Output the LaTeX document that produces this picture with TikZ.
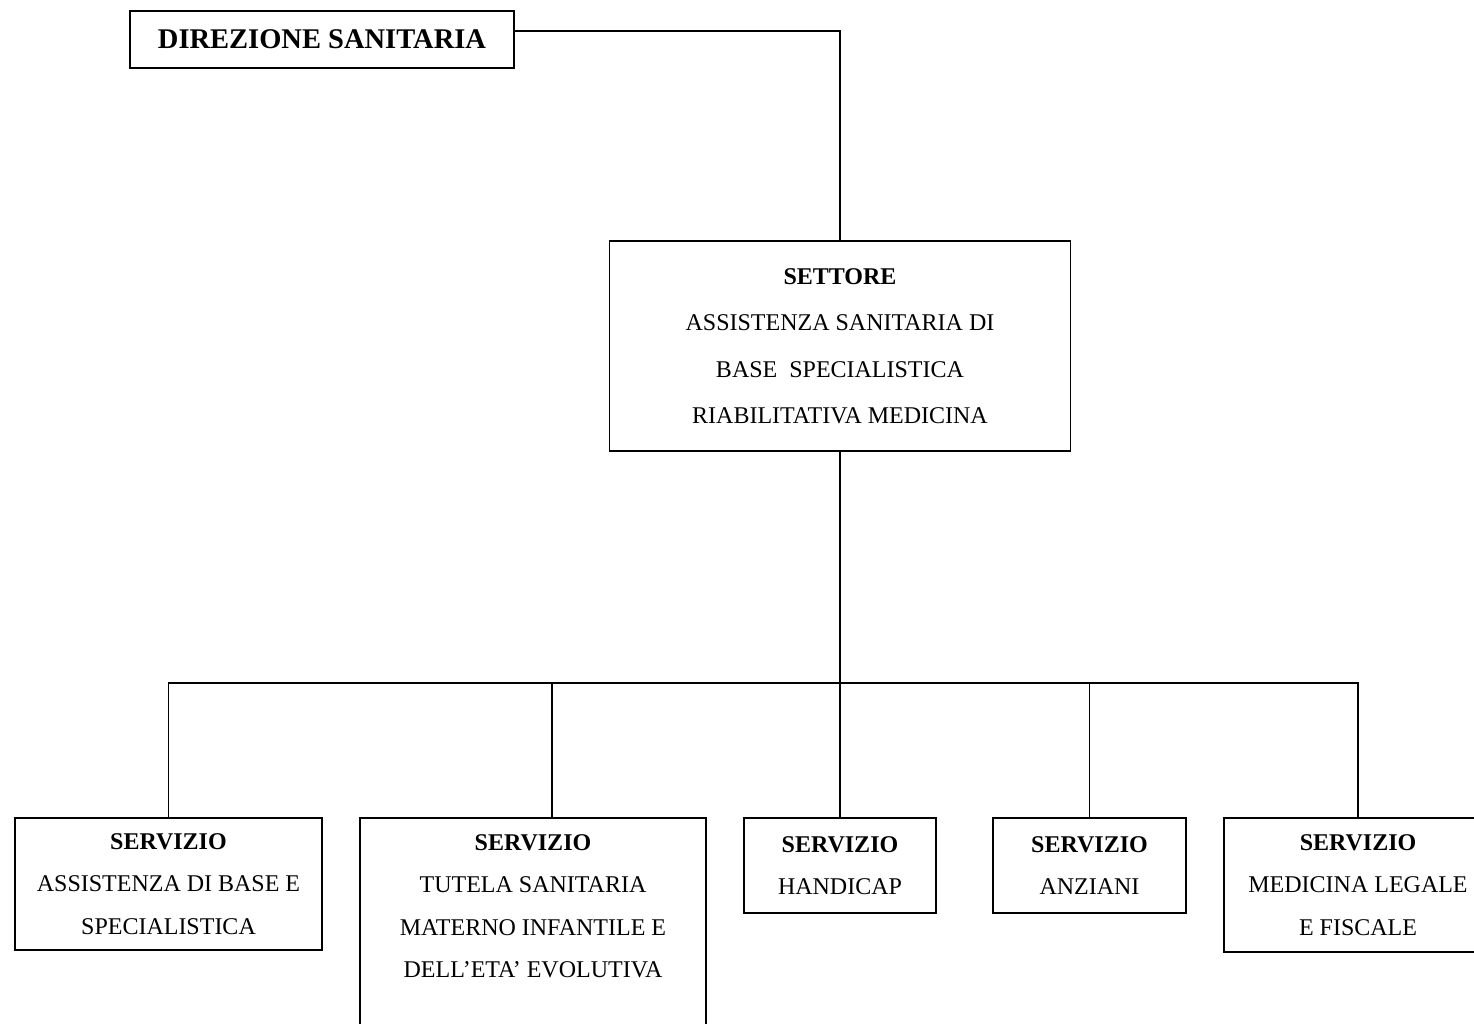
\documentclass[tikz,border=0pt]{standalone}
\usepackage{fontspec}
\setmainfont{Liberation Serif}

\begin{document}
\begin{tikzpicture}[x=1pt, y=1pt, line width=1.2pt,
  ufficio/.style={draw, rectangle, align=center, inner sep=0pt,
    font=\fontsize{24}{42.5}\selectfont},
  settore/.style={ufficio, font=\fontsize{24}{46.5}\selectfont}]

\useasboundingbox (0,0) rectangle (1474,1024) ;

\node [ufficio, minimum width=384, minimum height=57,
  font=\fontsize{28.5}{34}\selectfont\bfseries] (direzione) at (322,984.5) {DIREZIONE SANITARIA} ;

\node [settore, minimum width=461, minimum height=210] (settore) at (840,678)
  {\textbf{SETTORE}\\ASSISTENZA SANITARIA DI\\BASE\ \ SPECIALISTICA\\RIABILITATIVA MEDICINA} ;

\node [ufficio, minimum width=307, minimum height=132] (base) at (168.5,140)
  {\textbf{SERVIZIO}\\ASSISTENZA DI BASE E\\SPECIALISTICA} ;
\node [ufficio, minimum width=346, minimum height=219] (materno) at (533,96.5)
  {\textbf{SERVIZIO}\\TUTELA SANITARIA\\MATERNO INFANTILE E\\DELL'ETA' EVOLUTIVA\\\mbox{}} ;
\node [ufficio, minimum width=192, minimum height=95] (handicap) at (840,158.5)
  {\textbf{SERVIZIO}\\HANDICAP} ;
\node [ufficio, minimum width=193, minimum height=95] (anziani) at (1089.5,158.5)
  {\textbf{SERVIZIO}\\ANZIANI} ;
\node [ufficio, minimum width=268, minimum height=134] (legale) at (1358,139)
  {\textbf{SERVIZIO}\\MEDICINA LEGALE\\E FISCALE} ;

\coordinate (bus) at (840,341) ;

\draw ([yshift=8.5pt]direzione.east) -| (settore.north) ;
\draw (settore.south) -- (bus) ;
\draw (base.north) |- (bus) ;
\draw ([xshift=19pt]materno.north) |- (bus) ;
\draw (handicap.north) -- (bus) ;
\draw (anziani.north) |- (bus) ;
\draw (legale.north) |- (bus) ;

\end{tikzpicture}
\end{document}
